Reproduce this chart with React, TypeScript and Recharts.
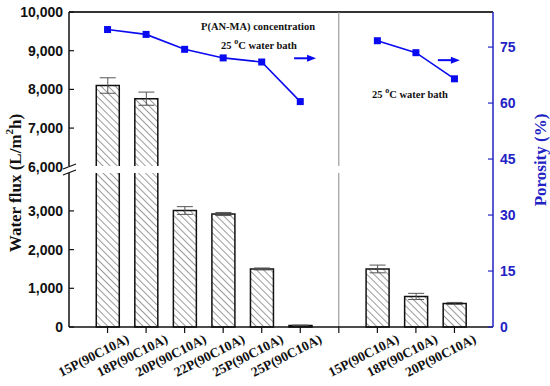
import React from "react";
import { ComposedChart, Bar, Line, XAxis, YAxis, ErrorBar, ReferenceLine, ReferenceArea } from "recharts";

// x positions (7 is the empty slot between the two groups)
const positions = [1, 2, 3, 4, 5, 6, 7, 8, 9, 10];
const samples = ["15P(90C10A)", "18P(90C10A)", "20P(90C10A)", "22P(90C10A)", "25P(90C10A)", "25P(90C10A)", "", "15P(90C10A)", "18P(90C10A)", "20P(90C10A)"];
const flux = [8100, 7760, 3010, 2920, 1500, 40, null, 1500, 790, 610];
const fluxErr = [200, 170, 100, 40, 25, 10, null, 100, 80, 25];
const porosity = [79.7, 78.4, 74.4, 72.1, 71.0, 60.4, null, 76.7, 73.5, 66.5];
const fluxTicks = [0, 1000, 2000, 3000, 6000, 7000, 8000, 9000, 10000];
const porosityTicks = [0, 15, 30, 45, 60, 75];

// broken flux axis: 4000..6000 is squeezed into a small gap
const SHIFT = 1860;
const squash = (v: number) => (v >= 6000 ? v - SHIFT : v);
const unsquash = (v: number) => (v > 4100 ? v + SHIFT : v);
const FLUX_TOP = squash(10000);

const BLUE = "#0a0af0";
const AXIS_BLUE = "#2222c4";

const data = positions.map((x, i) => ({
  x,
  flux: flux[i] == null ? null : squash(flux[i] as number),
  fluxErr: fluxErr[i],
  porosity: porosity[i],
}));

function SampleTick({ x, y, payload }: any) {
  const text = samples[positions.indexOf(payload.value)];
  if (!text) return <g />;
  return (
    <g transform={`translate(${x + 18},${y - 2})`}>
      <text transform="rotate(-27)" textAnchor="end" dy="0.75em" fontFamily="Liberation Serif" fontWeight="bold" fontSize={13.5} fill="#111">
        {text}
      </text>
    </g>
  );
}

function SquareDot({ cx, cy, value }: any) {
  if (value == null || cx == null) return <g />;
  return <rect x={cx - 3.5} y={cy - 3.5} width={7} height={7} fill={BLUE} />;
}

function Arrow({ x1, y1, x2, y2 }: any) {
  return (
    <g>
      <line x1={x1} y1={y1} x2={x2 - 6} y2={y2} stroke={BLUE} strokeWidth={2} />
      <polygon points={`${x2},${y2} ${x2 - 9},${y2 - 3.5} ${x2 - 9},${y2 + 3.5}`} fill={BLUE} />
    </g>
  );
}

function BreakGap({ x, y, width, height }: any) {
  return (
    <g>
      <rect x={x - 8} y={y} width={width + 7} height={height} fill="#fff" />
      <line x1={x - 6} y1={y + 3} x2={x + 7} y2={y - 2} stroke="#111" strokeWidth={1.3} />
      <line x1={x - 6} y1={y + height + 2} x2={x + 7} y2={y + height - 3} stroke="#111" strokeWidth={1.3} />
    </g>
  );
}

const boldSans = { fontFamily: "Liberation Sans", fontWeight: "bold", fontSize: 14 } as const;

export default function App() {
  return (
    <div style={{ position: "relative", width: 550, height: 386 }}>
      <style>{`body{margin:0}`}</style>
      <ComposedChart width={550} height={386} data={data} margin={{ top: 12, right: 0, bottom: 0, left: 0 }}>
        <defs>
          <pattern id="hatch" width={5} height={5} patternUnits="userSpaceOnUse" patternTransform="rotate(-45)">
            <rect width={5} height={5} fill="#fff" />
            <line x1={0} y1={0} x2={0} y2={5} stroke="#555" strokeWidth={1.2} />
          </pattern>
        </defs>
        <XAxis
          dataKey="x"
          type="number"
          domain={[0, 11]}
          ticks={positions}
          interval={0}
          height={59}
          tick={<SampleTick />}
          tickSize={6}
          axisLine={{ stroke: "#111", strokeWidth: 1.5 }}
          tickLine={{ stroke: "#111", strokeWidth: 1.2 }}
        />
        <YAxis
          yAxisId="flux"
          type="number"
          width={69}
          domain={[0, FLUX_TOP]}
          ticks={fluxTicks.map(squash)}
          interval={0}
          tickFormatter={(v: number) => unsquash(v).toLocaleString("en-US")}
          tickSize={-5}
          tickMargin={11}
          tick={{ ...boldSans, fill: "#111" }}
          axisLine={{ stroke: "#111", strokeWidth: 1.5 }}
          tickLine={{ stroke: "#111", strokeWidth: 1.2 }}
        />
        <YAxis
          yAxisId="por"
          orientation="right"
          type="number"
          width={57}
          domain={[0, 84.4]}
          ticks={porosityTicks}
          interval={0}
          tickSize={-5}
          tickMargin={12}
          tick={{ ...boldSans, fill: AXIS_BLUE }}
          axisLine={{ stroke: AXIS_BLUE, strokeWidth: 1.5 }}
          tickLine={{ stroke: AXIS_BLUE, strokeWidth: 1.2 }}
        />
        <ReferenceLine yAxisId="flux" y={FLUX_TOP} stroke="#333" strokeWidth={2} />
        <ReferenceLine yAxisId="flux" x={7} stroke="#888" strokeWidth={1} />
        <Bar yAxisId="flux" dataKey="flux" barSize={23} fill="url(#hatch)" stroke="#111" strokeWidth={1.5} isAnimationActive={false}>
          <ErrorBar dataKey="fluxErr" width={8} stroke="#555" strokeWidth={1} />
        </Bar>
        <ReferenceArea yAxisId="flux" y1={3980} y2={4160} shape={<BreakGap />} zIndex={550} ifOverflow="visible" />
        <Line
          yAxisId="por"
          dataKey="porosity"
          stroke={BLUE}
          strokeWidth={1.6}
          dot={<SquareDot />}
          activeDot={false}
          connectNulls={false}
          isAnimationActive={false}
        />
        <ReferenceLine yAxisId="por" segment={[{ x: 5.84, y: 72 }, { x: 6.41, y: 72 }]} shape={<Arrow />} />
        <ReferenceLine yAxisId="por" segment={[{ x: 9.57, y: 71.5 }, { x: 10.14, y: 71.5 }]} shape={<Arrow />} />
      </ComposedChart>
      <svg width={550} height={386} style={{ position: "absolute", left: 0, top: 0, pointerEvents: "none" }}>
        <g fontFamily="Liberation Serif" fontWeight="bold">
          <text x={258} y={26} fontSize={10.5} textAnchor="middle" dominantBaseline="central" fill="#111">P(AN-MA) concentration</text>
          <text x={259} y={45} fontSize={10.5} textAnchor="middle" dominantBaseline="central" fill="#111">
            25 <tspan dy={-4} fontSize={8}>o</tspan><tspan dy={4}>C water bath</tspan>
          </text>
          <text x={410} y={94} fontSize={10.5} textAnchor="middle" dominantBaseline="central" fill="#111">
            25 <tspan dy={-4} fontSize={8}>o</tspan><tspan dy={4}>C water bath</tspan>
          </text>
          <text transform="translate(15,183) rotate(-90)" fontSize={17} textAnchor="middle" dominantBaseline="central" fill="#111">
            Water flux (L/m<tspan dy={-6} fontSize={11}>2</tspan><tspan dy={6}>h)</tspan>
          </text>
          <text transform="translate(540,160) rotate(-90)" fontSize={17} textAnchor="middle" dominantBaseline="central" fill={AXIS_BLUE}>
            Porosity (%)
          </text>
        </g>
      </svg>
    </div>
  );
}
